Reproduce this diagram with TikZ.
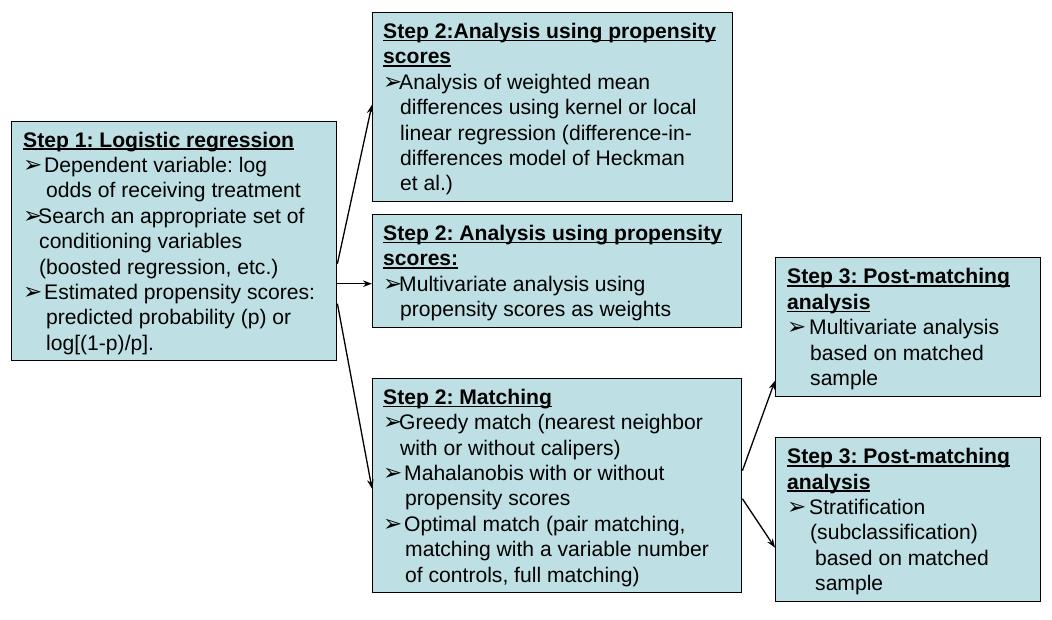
\documentclass[tikz,border=0pt]{standalone}
\usepackage{fontspec}
\setmainfont{Liberation Sans}
\newfontfamily\symfont{DejaVu Sans}
\usetikzlibrary{arrows.meta}
\definecolor{boxfill}{RGB}{190,224,228}
\frenchspacing
% bold, underlined heading line
\newcommand\headline[1]{\setbox0\hbox{\bfseries #1}\rlap{\rule[-2.9pt]{\wd0}{1.5pt}}\box0}
% arrow bullet in a box of given width (pt)
\newcommand\bul[1]{\makebox[#1pt][l]{\symfont\fontsize{23}{23}\selectfont ➢}}
% hanging indent for continuation lines
\newcommand\ind[1]{\hspace*{#1pt}}
\begin{document}
\begin{tikzpicture}[x=1pt,y=-1pt,
  box/.style={draw=black, line width=1.4pt, fill=boxfill, anchor=north west, inner sep=0pt},
  txt/.style={anchor=west, align=left, inner sep=0pt, font=\fontsize{21.1}{25.4}\selectfont\frenchspacing},
  link/.style={line width=1.3pt, -{Stealth[length=9pt,width=6.5pt]}}]
\useasboundingbox[fill=white] (0,0) rectangle (1052,619);

% Step 1
\node[box, minimum width=325pt, minimum height=239pt] (s1) at (11,121) {};
\node[txt] (t1) at ([xshift=12pt,yshift=-2pt]s1.west) {\headline{Step 1: Logistic regression}\\
  \bul{21}Dependent variable: log\\
  \ind{23}odds of receiving treatment\\
  \bul{15}Search an appropriate set of\\
  \ind{16}conditioning variables\\
  \ind{16}(boosted regression, etc.)\\
  \bul{21}Estimated propensity scores:\\
  \ind{23}predicted probability (p) or\\
  \ind{23}log[(1-p)/p].};

% Step 2 boxes
\node[box, minimum width=360pt, minimum height=189pt] (s2a) at (372,12) {};
\node[txt] (t2a) at ([xshift=11pt,yshift=-2pt]s2a.west) {\headline{Step 2:Analysis using propensity}\\
  \headline{scores}\\
  \bul{16}Analysis of weighted mean\\
  \ind{17}differences using kernel or local\\
  \ind{17}linear regression (difference-in-\\
  \ind{17}differences model of Heckman\\
  \ind{17}et al.)};

\node[box, minimum width=369pt, minimum height=113pt] (s2b) at (372,214) {};
\node[txt] (t2b) at ([xshift=11pt,yshift=-2pt]s2b.west) {\headline{Step 2: Analysis using propensity}\\
  \headline{scores:}\\
  \bul{16}Multivariate analysis using\\
  \ind{17}propensity scores as weights};

\node[box, minimum width=369pt, minimum height=214pt] (s2c) at (372,378) {};
\node[txt] (t2c) at ([xshift=11pt,yshift=-2pt]s2c.west) {\headline{Step 2: Matching}\\
  \bul{16}Greedy match (nearest neighbor\\
  \ind{17}with or without calipers)\\
  \bul{21}Mahalanobis with or without\\
  \ind{22}propensity scores\\
  \bul{21}Optimal match (pair matching,\\
  \ind{22}matching with a variable number\\
  \ind{22}of controls, full matching)};

% Step 3 boxes
\node[box, minimum width=265pt, minimum height=139pt] (s3a) at (775,257) {};
\node[txt] (t3a) at ([xshift=12pt,yshift=-2pt]s3a.west) {\headline{Step 3: Post-matching}\\
  \headline{analysis}\\
  \bul{22}Multivariate analysis\\
  \ind{23}based on matched\\
  \ind{23}sample};

\node[box, minimum width=265pt, minimum height=164pt] (s3b) at (775,437) {};
\node[txt] (t3b) at ([xshift=12pt,yshift=-2pt]s3b.west) {\headline{Step 3: Post-matching}\\
  \headline{analysis}\\
  \bul{22}Stratification\\
  \ind{23}(subclassification)\\
  \ind{28}based on matched\\
  \ind{28}sample};

% connectors
\draw[link] ([yshift=-22.5pt]s1.east) -- ([yshift=2.5pt]s2a.west);
\draw[link] ([yshift=-42.5pt]s1.east) -- ([yshift=-12.5pt]s2b.west);
\draw[link] ([yshift=-62.5pt]s1.east) -- ([yshift=-3pt]s2c.west);
\draw[link] ([yshift=15pt]s2c.east) -- ([yshift=-53.5pt]s3a.west);
\draw[link] ([yshift=-13pt]s2c.east) -- ([yshift=-28pt]s3b.west);
\end{tikzpicture}
\end{document}
